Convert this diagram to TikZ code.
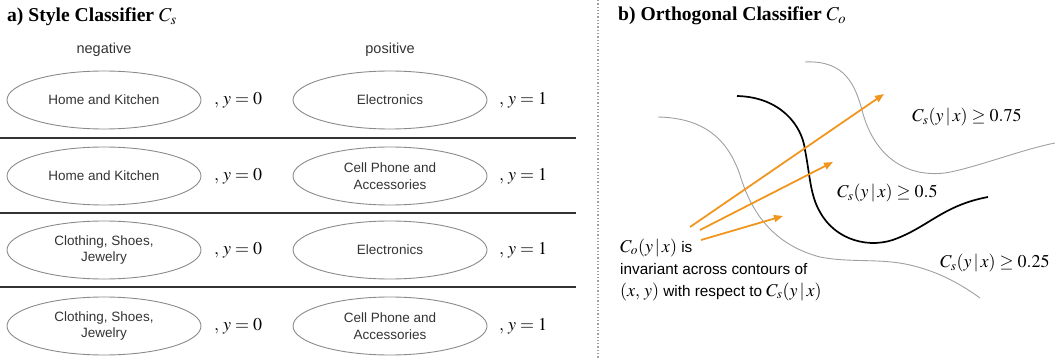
\documentclass[tikz,border=0pt]{standalone}
\usepackage{mathptmx}
\usepackage{fontspec}
\setmainfont{Liberation Serif}
\newfontfamily\helv{Liberation Sans}
\usetikzlibrary{shapes.geometric,arrows.meta}
\definecolor{ellgray}{HTML}{8A8A8A}
\definecolor{txtgray}{HTML}{333333}
\definecolor{contgray}{HTML}{A0A0A0}
\definecolor{arrorange}{HTML}{F0961E}
\newcommand\nmath[1]{{\fontsize{18}{22}\selectfont$#1$}}
\tikzset{
  cat/.style={ellipse,draw=ellgray,line width=0.9pt,minimum width=194pt,minimum height=58pt,inner sep=0pt,
    font=\helv\fontsize{13.5}{16.5}\selectfont,text=txtgray,align=center},
  lab/.style={anchor=west,font=\fontsize{18}{20}\selectfont,inner sep=0pt},
  head/.style={font=\helv\fontsize{14.5}{16}\selectfont,text=txtgray},
  title/.style={anchor=west,font=\fontsize{19.6}{22}\selectfont\bfseries,inner sep=0pt},
  sep/.style={draw=txtgray,line width=1.4pt},
  cont/.style={draw=contgray,line width=0.9pt},
  cline/.style={draw=black,line width=1.7pt},
  oarr/.style={draw=arrorange,line width=1.8pt,-{Triangle[length=9pt,width=7pt]}},
  clab/.style={font=\fontsize{18}{20}\selectfont,inner sep=0pt},
  notel/.style={anchor=base west,inner sep=0pt,font=\helv\fontsize{15.3}{22}\selectfont},
}
\begin{document}
\begin{tikzpicture}[x=1pt,y=-1pt]
\useasboundingbox (0,0) rectangle (1055,358);
% panel a
\node[title] (ta) at (7,17) {a) Style Classifier $C_s$};
\node[head] (neg) at (104,50) {negative};
\node[head] (pos) at (390,50) {positive};

\node[cat] (n1) at (104,100) {Home and Kitchen};
\node[cat] (p1) at (390,100) {Electronics};
\node[cat] (n2) at (104,176) {Home and Kitchen};
\node[cat] (p2) at (390,176) {Cell Phone and\\Accessories};
\node[cat] (n3) at (104,250) {Clothing, Shoes,\\Jewelry};
\node[cat] (p3) at (390,250) {Electronics};
\node[cat] (n4) at (104,326) {Clothing, Shoes,\\Jewelry};
\node[cat] (p4) at (390,326) {Cell Phone and\\Accessories};

\foreach \r/\yy in {1/100,2/176,3/250,4/326}{
  \node[lab] (ln\r) at (214,\yy) {$,\,y=0$};
  \node[lab] (lp\r) at (499,\yy) {$,\,y=1$};
}

\draw[sep] (0,138) -- (576,138);
\draw[sep] (0,213) -- (576,213);
\draw[sep] (0,287) -- (576,287);

\draw[contgray,line width=1.3pt,dotted] (598,0) -- (598,358);

% panel b
\node[title] (tb) at (618,16) {b) Orthogonal Classifier $C_o$};

\draw[cont] (805,62) .. controls (845,60) and (855,85) .. (862,110)
  .. controls (872,150) and (900,178) .. (945,173)
  .. controls (975,168) and (1020,150) .. (1055,143);
\draw[cline] (737,96) .. controls (780,97) and (802,125) .. (805,150)
  .. controls (810,175) and (810,195) .. (820,212)
  .. controls (835,240) and (870,250) .. (898,238)
  .. controls (930,225) and (945,205) .. (988,197);
\draw[cont] (658,117) .. controls (705,118) and (728,140) .. (740,175)
  .. controls (752,215) and (775,245) .. (820,257)
  .. controls (850,263) and (880,258) .. (910,265)
  .. controls (940,272) and (962,285) .. (980,298);

\node[clab,anchor=west] (c75) at (912,117) {$C_s(y\,|\,x)\geq 0.75$};
\node[clab,anchor=west] (c50) at (837,193) {$C_s(y\,|\,x)\geq 0.5$};
\node[clab,anchor=west] (c25) at (940,263) {$C_s(y\,|\,x)\geq 0.25$};

\node[notel] (note1) at (620,252) {\nmath{C_o(y\,|\,x)} is};
\node[notel] (note2) at (620,274) {invariant across contours of};
\node[notel] (note3) at (620,296) {\nmath{(x,\,y)} with respect to \nmath{C_s(y\,|\,x)}};

\coordinate (s1) at (690,227);
\coordinate (e1) at (884,94);
\coordinate (s2) at (700,230);
\coordinate (e2) at (833,162);
\coordinate (s3) at (701,240);
\coordinate (e3) at (783,216);
\draw[oarr] (s1) -- (e1);
\draw[oarr] (s2) -- (e2);
\draw[oarr] (s3) -- (e3);
\end{tikzpicture}
\end{document}
